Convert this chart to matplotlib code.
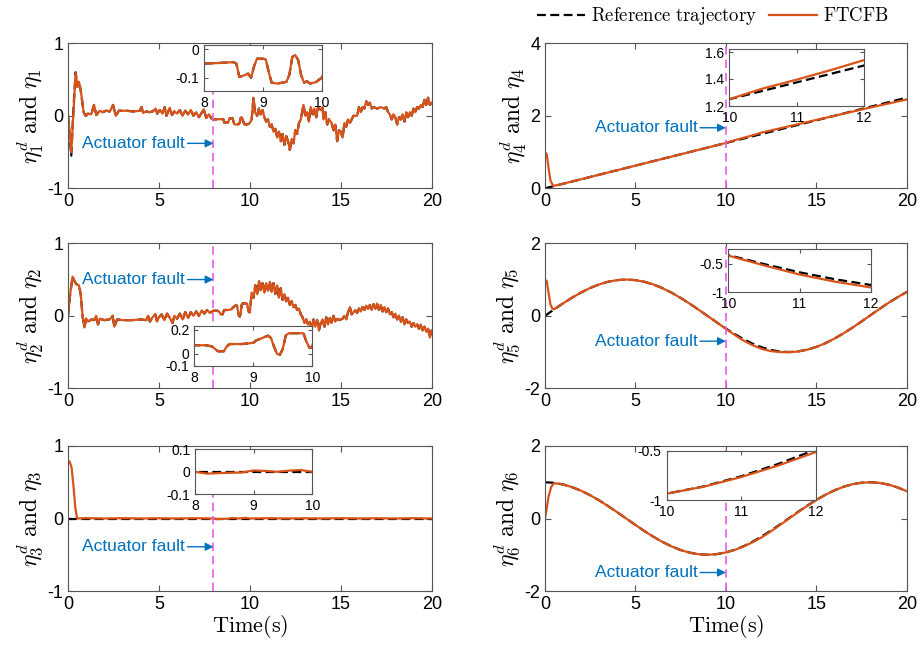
import numpy as np
import matplotlib.pyplot as plt
from matplotlib.ticker import FormatStrFormatter

plt.rcParams['font.family'] = ['Liberation Sans', 'DejaVu Sans']
plt.rcParams['mathtext.fontset'] = 'cm'
plt.rcParams['axes.unicode_minus'] = False

REF_C = 'black'
ACT_C = '#D95319'
FAULT_C = '#E85AE8'
NOTE_C = '#0072BD'

# ---- eta1 ----
t_eta1 = [0, 0.1, 0.18, 0.3, 0.42, 0.52, 0.6, 0.7, 0.86, 0.97, 1.1, 1.28, 1.43, 1.56, 1.74,
          1.9, 2.1, 2.3, 2.48, 2.62, 2.8, 3.2, 3.6, 3.95, 4.04, 4.13, 4.3, 4.5, 4.65, 4.83,
          4.9, 5.05, 5.2, 5.32, 5.41, 5.5, 5.6, 5.72, 5.85, 6.0, 6.15, 6.3, 6.45, 6.6,
          6.75, 6.9, 7.05, 7.2, 7.35, 7.47, 7.6, 7.75, 7.9,
          8.0, 8.25, 8.5, 8.55, 8.6, 8.7, 8.75, 8.8, 8.85, 8.9, 9.0, 9.05, 9.1, 9.15, 9.25,
          9.4, 9.45, 9.5, 9.55, 9.6, 9.65, 9.7, 9.75, 9.8, 9.9, 10.0,
          10.1, 10.2, 10.28, 10.4, 10.5, 10.6, 10.7, 10.8, 10.9, 11.0, 11.1, 11.2, 11.3,
          11.4, 11.5, 11.6, 11.7, 11.8, 11.9, 12.0, 12.1, 12.2, 12.3, 12.4, 12.5, 12.6,
          12.7, 12.8, 12.95, 13.05, 13.15, 13.25, 13.35, 13.45, 13.55, 13.65, 13.75, 13.9,
          14.0, 14.05, 14.15, 14.25, 14.35, 14.5, 14.6, 14.7, 14.8, 14.9, 15.0, 15.1, 15.2,
          15.3, 15.4, 15.5, 15.7, 15.9, 16.0, 16.1, 16.2, 16.3, 16.4, 16.5, 16.6, 16.7,
          16.8, 17.0, 17.2, 17.4, 17.5, 17.6, 17.7, 17.8, 17.9, 18.0, 18.1, 18.2, 18.3,
          18.4, 18.5, 18.6, 18.7, 18.8, 18.9, 19.0, 19.1, 19.2, 19.3, 19.4, 19.5, 19.6,
          19.7, 19.8, 19.9, 20.0]
eta1_ref = [0.0, -0.3, -0.55, 0.1, 0.6, 0.4, 0.47, 0.35, 0.05, 0.0, 0.03, 0.02, 0.15, 0.01, 0.07,
            0.05, 0.07, 0.06, 0.15, 0.0, 0.07, 0.07, 0.06, 0.07, 0.12, 0.04, 0.06, 0.05, 0.06, 0.1,
            0.03, 0.08, 0.03, 0.12, 0.0, 0.05, 0.11, 0.01, 0.06, 0.03, 0.08, 0.0, 0.07, 0.02,
            0.08, 0.0, 0.05, -0.02, 0.04, 0.09, -0.03, 0.02, -0.04,
            -0.05, -0.048, -0.045, -0.05, -0.097, -0.09, -0.085, -0.1, -0.06, -0.033, -0.033, -0.035, -0.08, -0.117, -0.12,
            -0.114, -0.09, -0.027, -0.02, -0.038, -0.09, -0.117, -0.112, -0.12, -0.115, -0.1,
            -0.05, 0.25, 0.05, 0.0, 0.1, 0.02, 0.08, -0.02, -0.08, -0.05, -0.15, -0.12, -0.22,
            -0.18, -0.3, -0.22, -0.35, -0.25, -0.4, -0.28, -0.35, -0.47, -0.32, -0.38, -0.2, -0.25,
            -0.1, -0.05, 0.15, 0.0, 0.05, -0.08, 0.12, 0.02, 0.1, -0.02, 0.12, 0.08,
            0.12, -0.05, 0.05, -0.12, -0.05, -0.1, -0.2, -0.12, -0.35, -0.2, -0.22, -0.3, -0.1,
            -0.15, -0.05, -0.1, 0.0, 0.0, 0.12, 0.05, 0.12, 0.1, 0.2, 0.15, 0.18, 0.1,
            0.12, 0.1, 0.12, 0.1, 0.12, 0.05, 0.02, -0.05, 0.02, -0.02, -0.12, -0.02, -0.05,
            0.02, -0.08, 0.05, -0.02, 0.05, 0.0, 0.1, 0.05, 0.12, 0.1, 0.15, 0.12, 0.22,
            0.15, 0.25, 0.15, 0.18]
eta1_start = [0.0, -0.25, -0.5, 0.05]
eta1 = eta1_start + eta1_ref[4:]

# ---- eta2 ----
t_eta2 = [0, 0.12, 0.25, 0.35, 0.45, 0.6, 0.7, 0.8, 0.9, 1.0, 1.1, 1.3, 1.45, 1.55, 1.65, 1.75,
          2.0, 2.3, 2.45, 2.55, 2.7, 3.0, 3.5, 4.0, 4.3, 4.4, 4.5, 4.65, 4.8, 4.9, 5.0, 5.15,
          5.3, 5.45, 5.6, 5.75, 5.85, 6.0, 6.15, 6.3, 6.45, 6.6, 6.75, 6.9, 7.05, 7.2, 7.35,
          7.5, 7.65, 7.8,
          8.0, 8.2, 8.3, 8.35, 8.4, 8.5, 8.55, 8.6, 8.8, 8.9, 9.0, 9.05, 9.15, 9.25, 9.3,
          9.35, 9.4, 9.45, 9.5, 9.55, 9.6, 9.85, 9.9, 9.95, 10.0,
          10.1, 10.2, 10.3, 10.4, 10.5, 10.6, 10.7, 10.8, 10.9, 11.0, 11.1, 11.2, 11.3, 11.4,
          11.5, 11.6, 11.7, 11.8, 11.9, 12.0, 12.1, 12.2, 12.3, 12.4, 12.5, 12.6, 12.7, 12.8,
          12.9, 13.0, 13.1, 13.2, 13.3, 13.4, 13.5, 13.6, 13.7, 13.8, 13.9, 14.0, 14.1, 14.2,
          14.3, 14.4, 14.5, 14.6, 14.7, 14.8, 14.9, 15.0, 15.1, 15.2, 15.3, 15.4, 15.5, 15.6,
          15.7, 15.8, 15.9, 16.0, 16.1, 16.2, 16.3, 16.4, 16.5, 16.6, 16.7, 16.8, 16.9, 17.0,
          17.1, 17.2, 17.3, 17.4, 17.5, 17.6, 17.7, 17.8, 17.9, 18.0, 18.1, 18.2, 18.3, 18.4,
          18.5, 18.6, 18.7, 18.8, 18.9, 19.0, 19.1, 19.2, 19.3, 19.4, 19.5, 19.6, 19.7, 19.8,
          19.9, 20.0]
eta2 = [0.0, 0.3, 0.54, 0.48, 0.44, 0.42, 0.3, 0.0, -0.16, -0.04, -0.08, -0.05, -0.06, 0.0, -0.12, -0.04,
        -0.06, -0.05, 0.0, -0.15, -0.05, -0.06, -0.06, -0.05, -0.06, 0.0, -0.08, -0.02, 0.02, -0.08, -0.02, 0.02,
        -0.06, 0.03, -0.03, -0.1, 0.0, -0.04, 0.03, -0.05, 0.05, -0.03, 0.05, 0.0, 0.06, 0.0, 0.07,
        0.03, 0.08, 0.04,
        0.07, 0.07, 0.06, 0.04, 0.02, 0.02, 0.06, 0.08, 0.08, 0.085, 0.09, 0.11, 0.13, 0.15, 0.13,
        0.06, 0.0, -0.01, 0.04, 0.15, 0.17, 0.17, 0.1, 0.05, 0.05,
        0.32, 0.25, 0.42, 0.3, 0.48, 0.35, 0.45, 0.32, 0.45, 0.35, 0.47, 0.33, 0.45, 0.3,
        0.42, 0.25, 0.38, 0.22, 0.3, 0.2, 0.25, 0.15, 0.2, 0.12, 0.15, 0.08, 0.1, 0.02,
        -0.02, -0.1, -0.05, -0.12, -0.08, -0.18, -0.05, -0.15, -0.06, -0.2, -0.1, -0.05, -0.15, -0.02,
        -0.12, -0.03, -0.1, 0.0, -0.08, -0.04, -0.06, -0.05, -0.04, 0.0, -0.05, 0.05, 0.12, 0.02,
        0.05, 0.08, 0.04, 0.1, 0.06, 0.12, 0.08, 0.14, 0.1, 0.15, 0.08, 0.16, 0.1, 0.17,
        0.08, 0.15, 0.06, 0.12, 0.05, 0.1, 0.02, 0.05, -0.02, 0.03, -0.05, 0.0, -0.08, -0.02,
        -0.12, -0.05, -0.1, -0.08, -0.15, -0.1, -0.15, -0.12, -0.18, -0.12, -0.2, -0.15, -0.22, -0.18,
        -0.3, -0.2]
eta2_ref = eta2

# ---- eta3 ----
t_eta3 = [0, 0.1, 0.2, 0.3, 0.4, 0.5, 1, 2, 3, 4, 5, 6, 7, 8.0, 8.2, 8.5, 8.8, 9.0, 9.2,
          9.4, 9.6, 9.8, 10.0, 11, 12, 13, 14, 15, 16, 17, 18, 19, 20]
eta3 = [0.8, 0.78, 0.7, 0.45, 0.15, 0.0, 0.005, 0.0, 0.004, 0.0, 0.003, 0.0, 0.004, 0.0, -0.008,
        -0.005, -0.003, 0.006, 0.004, 0.0, 0.005, 0.008, 0.0, 0.004, 0.0, 0.003, 0.0, 0.004, 0.0,
        0.003, 0.0, 0.004, 0.0]
t_eta3_ref = [0, 20]
eta3_ref = [0.0, 0.0]

# ---- eta4 ----
t_eta4_ref = [0, 20]
eta4_ref = [0.0, 2.5]
t_eta4 = [0, 0.1, 0.2, 0.3, 0.45, 0.6, 1, 2, 3, 4, 5, 6, 7, 8, 9, 10, 10.5, 11, 11.5, 12,
          13, 14, 15, 16, 17, 18, 19, 20]
eta4 = [1.0, 0.93, 0.55, 0.22, 0.07, 0.08, 0.125, 0.25, 0.375, 0.5, 0.625, 0.75, 0.875, 1.0,
        1.125, 1.25, 1.33, 1.395, 1.465, 1.54, 1.655, 1.77, 1.885, 2.0, 2.115, 2.23, 2.34, 2.45]

# ---- eta5 / eta6 ----
t_grid = np.arange(0, 20.01, 0.5)
eta5_ref = [0.0, 0.174, 0.343, 0.501, 0.644, 0.768, 0.867, 0.941, 0.985, 1.0, 0.984, 0.938,
            0.863, 0.763, 0.638, 0.493, 0.335, 0.166, -0.008, -0.182, -0.351, -0.506, -0.651,
            -0.773, -0.872, -0.944, -0.987, -1.0, -0.982, -0.934, -0.859, -0.757, -0.631,
            -0.485, -0.327, -0.158, 0.017, 0.191, 0.359, 0.514, 0.657]
t_eta5 = [0, 0.1, 0.2, 0.3, 0.4] + list(t_grid[1:])
eta5 = [1.0, 0.95, 0.62, 0.32, 0.2,
        0.18, 0.343, 0.501, 0.644, 0.768, 0.867, 0.941, 0.985, 1.0, 0.984, 0.938, 0.863,
        0.763, 0.638, 0.493, 0.335, 0.166, -0.008, -0.182, -0.36, -0.53, -0.69, -0.815,
        -0.915, -0.975, -1.0, -1.005, -0.985, -0.936, -0.86, -0.757, -0.631, -0.485, -0.327,
        -0.158, 0.017, 0.191, 0.359, 0.514, 0.657]

eta6_ref = [1.0, 0.985, 0.939, 0.865, 0.765, 0.641, 0.498, 0.339, 0.17, -0.004, -0.178,
            -0.347, -0.505, -0.647, -0.77, -0.87, -0.942, -0.986, -1.0, -0.983, -0.936,
            -0.862, -0.76, -0.634, -0.49, -0.331, -0.162, 0.012, 0.186, 0.354, 0.512, 0.654,
            0.776, 0.875, 0.947, 0.987, 1.0, 0.982, 0.933, 0.857, 0.754]
t_eta6 = [0, 0.1, 0.2, 0.35] + list(t_grid[1:])
eta6 = [0.0, 0.3, 0.62, 0.88,
        0.975, 0.939, 0.865, 0.765, 0.641, 0.498, 0.339, 0.17, -0.004, -0.178, -0.347,
        -0.505, -0.647, -0.77, -0.87, -0.942, -0.986, -1.0, -0.983, -0.936, -0.865, -0.768,
        -0.65, -0.515, -0.352, -0.178, 0.0, 0.176, 0.348, 0.508, 0.651, 0.774, 0.874, 0.946,
        0.987, 1.0, 0.982, 0.933, 0.857, 0.754]

W, H = 922, 657


def px_rect(x0, y0, x1, y1):
    return [x0 / W, 1 - y1 / H, (x1 - x0) / W, (y1 - y0) / H]


def style(ax, size):
    ax.tick_params(direction='in', top=True, right=True, labelsize=size,
                   color='#555555', length=4, width=0.8)
    for s in ax.spines.values():
        s.set_color('#555555')
        s.set_linewidth(0.8)
    ax.yaxis.set_major_formatter(FormatStrFormatter('%g'))
    ax.xaxis.set_major_formatter(FormatStrFormatter('%g'))


def draw_lines(ax, tr, yr, ta, ya):
    h1, = ax.plot(tr, yr, color=REF_C, lw=1.6, linestyle=(0, (4, 2)))
    h2, = ax.plot(ta, ya, color=ACT_C, lw=1.6)
    return h1, h2


panels = [
    # main rect, inset rect, data, ylim, yticks, fault, note y, note end, inset x/y
    (px_rect(68, 43.3, 431.7, 188.3), px_rect(204, 45, 321.7, 90.7),
     (t_eta1, eta1_ref, t_eta1, eta1), (-1, 1), [-1, 0, 1], 8, -0.38, 6.42,
     (8, 10), (-0.145, 0.015), [-0.1, 0], 1),
    (px_rect(68, 243.3, 431.7, 388.3), px_rect(194.3, 326, 312.3, 365.7),
     (t_eta2, eta2_ref, t_eta2, eta2), (-1, 1), [-1, 0, 1], 8, 0.5, 6.42,
     (8, 10), (-0.1, 0.23), [-0.1, 0, 0.2], 2),
    (px_rect(68, 446, 431.7, 591), px_rect(195, 449.3, 312.3, 494.3),
     (t_eta3_ref, eta3_ref, t_eta3, eta3), (-1, 1), [-1, 0, 1], 8, -0.39, 6.42,
     (8, 10), (-0.1, 0.1), [-0.1, 0, 0.1], 3),
    (px_rect(545, 43.3, 906.7, 188.3), px_rect(729.3, 49.3, 864, 106),
     (t_eta4_ref, eta4_ref, t_eta4, eta4), (0, 4), [0, 2, 4], 10, 1.67, 8.42,
     (10, 12), (1.2, 1.62), [1.2, 1.4, 1.6], 4),
    (px_rect(545, 243.3, 906.7, 388.3), px_rect(728.3, 249.3, 870.7, 292.3),
     (t_grid, eta5_ref, t_eta5, eta5), (-2, 2), [-2, 0, 2], 10, -0.7, 8.42,
     (10, 12), (-1, -0.25), [-1, -0.5], 5),
    (px_rect(545, 446, 906.7, 591), px_rect(666.5, 450.7, 815.5, 500),
     (t_grid, eta6_ref, t_eta6, eta6), (-2, 2), [-2, 0, 2], 10, -1.49, 8.42,
     (10, 12), (-1, -0.5), [-1, -0.5], 6),
]

fig = plt.figure(figsize=(9.22, 6.57), dpi=100)

handles = None
for rect, irect, data, ylim, yticks, tf, ny, nx, ixl, iyl, iyt, k in panels:
    ax = fig.add_axes(rect)
    handles = draw_lines(ax, *data)
    ax.axvline(tf, color=FAULT_C, lw=1.2, linestyle=(0, (5, 3)))
    ax.set_xlim(0, 20)
    ax.set_ylim(*ylim)
    ax.set_xticks([0, 5, 10, 15, 20])
    ax.set_yticks(yticks)
    style(ax, 13)
    ax.set_ylabel(r'$\eta_%d^d\ \mathrm{and}\ \eta_%d$' % (k, k), fontsize=17, labelpad=1)
    if k in (3, 6):
        ax.set_xlabel(r'$\mathrm{Time(s)}$', fontsize=16, labelpad=0)
    ax.annotate('Actuator fault', xy=(tf, ny), xytext=(nx, ny), ha='right', va='center',
                color=NOTE_C, fontsize=12.5,
                arrowprops=dict(arrowstyle='-|>', color=NOTE_C, lw=1,
                                mutation_scale=12, shrinkA=0, shrinkB=0))

    ins = fig.add_axes(irect)
    draw_lines(ins, *data)
    ins.set_xlim(*ixl)
    ins.set_ylim(*iyl)
    ins.set_xticks([ixl[0], (ixl[0] + ixl[1]) / 2, ixl[1]])
    ins.set_yticks(iyt)
    style(ins, 10)
    ins.tick_params(length=3)

fig.legend(handles, [r'$\mathrm{Reference\ trajectory}$', r'$\mathrm{FTCFB}$'],
           loc='center right', bbox_to_anchor=(0.972, 0.975), ncol=2, frameon=False,
           fontsize=13.5, handlelength=2.6, columnspacing=0.6, handletextpad=0.3,
           borderaxespad=0)

fig.savefig('out.png', dpi=100)
